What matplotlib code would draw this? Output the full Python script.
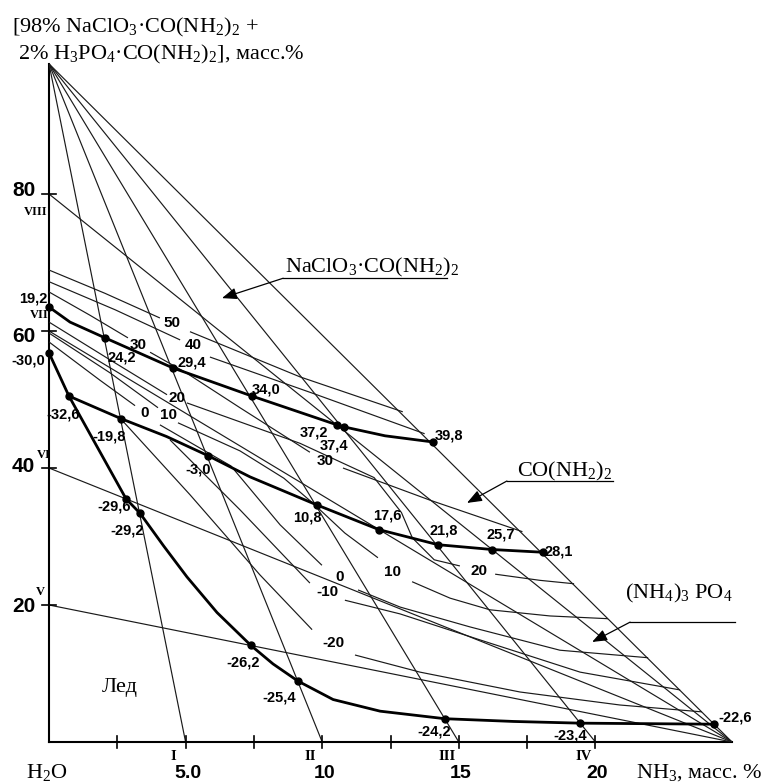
import matplotlib
matplotlib.use("Agg")
import matplotlib.pyplot as plt

# triangle corners (NH3 mass %, salt mass %)
apex_salt = 99.0
nh3_corner = 25.0

# section lines: I-IV start in the salt corner, V-VIII start in the NH3 corner
ray_nh3 = [5.0, 10.0, 15.0, 20.0]
ray_names = ["I", "II", "III", "IV"]
sec_salt = [20.0, 40.0, 60.0, 80.0]
sec_names = ["V", "VI", "VII", "VIII"]
xtick_vals = [2.5, 5.0, 7.5, 10.0, 12.5, 15.0, 17.5, 20.0]
xtick_text = {5.0: "5.0", 10.0: "10", 15.0: "15", 20.0: "20"}
ytick_vals = [20, 40, 60, 80]

# NaClO3*CO(NH2)2 / CO(NH2)2 boundary
upper_x = [0.0, 2.05, 4.54, 7.43, 10.54, 10.80, 14.05]
upper_y = [63.5, 59.0, 54.6, 50.5, 46.3, 46.0, 43.8]
upper_t = ["19,2", "24,2", "29,4", "34,0", "37,2", "37,4", "39,8"]
upper_path_x = [0.0, 0.77, 2.05, 4.54, 7.43, 10.54, 10.80, 12.3, 14.05]
upper_path_y = [63.5, 61.3, 59.0, 54.6, 50.5, 46.3, 46.0, 44.7, 43.8]

# CO(NH2)2 / (NH4)3PO4 boundary
lower_x = [0.73, 2.64, 5.82, 9.81, 12.08, 14.24, 16.22, 18.08]
lower_y = [50.5, 47.2, 41.8, 34.6, 31.0, 28.8, 28.1, 27.7]
lower_t = ["-32,6", "-19,8", "-3,0", "10,8", "17,6", "21,8", "25,7", "28,1"]
lower_path_x = [0.73, 2.64, 4.3, 5.82, 7.36, 9.81, 12.08, 14.24, 16.22, 18.08]
lower_path_y = [50.5, 47.2, 44.6, 41.8, 38.7, 34.6, 31.0, 28.8, 28.1, 27.7]

# ice curve
ice_x = [0.0, 2.82, 3.33, 7.39, 9.11, 14.49, 19.45, 24.35]
ice_y = [56.8, 35.5, 33.4, 14.1, 8.9, 3.4, 2.75, 2.6]
ice_t = ["-30,0", "-29,6", "-29,2", "-26,2", "-25,4", "-24,2", "-23,4", "-22,6"]
ice_path_x = [0.0, 0.73, 2.82, 3.33, 4.2, 5.05, 6.15, 7.39, 8.2, 9.11, 10.4, 12.12, 14.49, 17.0, 19.45, 24.35]
ice_path_y = [56.8, 50.5, 35.5, 33.4, 28.6, 24.1, 18.9, 14.1, 11.4, 8.9, 6.2, 4.5, 3.4, 3.0, 2.75, 2.6]

# isotherms (pieces between the labels)
iso50_a = [(0, 68.9), (2.05, 65.5), (4.06, 61.9)]
iso50_b = [(5.16, 59.9), (9.19, 53.3), (12.95, 48.2)]
iso40_a = [(0, 67.2), (2.42, 63.1), (4.80, 58.7)]
iso40_b = [(5.89, 56.2), (9.66, 50.9), (13.75, 45.0)]
iso30_a = [(0, 65.7), (1.50, 62.3), (2.89, 59.0)]
iso30_b = [(3.70, 56.9), (4.98, 54.0), (6.99, 48.8), (9.55, 42.3)]
iso30_c = [(10.76, 40.0), (13.95, 35.3), (17.33, 30.7)]
iso20_a = [(0, 61.3), (2.23, 55.8), (4.32, 50.7)]
iso20_b = [(5.05, 49.5), (9.19, 43.6), (11.9, 38.6), (12.9, 33.5), (13.3, 29.8), (14.1, 26.6), (15.04, 25.7)]
iso20_c = [(16.33, 24.5), (17.97, 23.6), (19.22, 23.1)]
iso10_a = [(0, 59.7), (2.23, 53.9), (3.99, 48.8)]
iso10_b = [(4.72, 46.6), (6.99, 42.5), (8.6, 38.5), (9.65, 34.9), (10.83, 30.5), (12.04, 26.9)]
iso10_c = [(13.29, 23.4), (14.68, 21.0), (16.14, 19.3), (18.34, 18.4), (20.46, 18.0)]
iso0_a = [(0, 58.4), (1.87, 52.8), (3.15, 49.1)]
iso0_b = [(4.06, 46.3), (5.53, 42.9), (6.66, 40.3), (8.46, 31.7), (9.99, 25.8)]
iso0_c = [(11.31, 22.2), (12.85, 19.7), (15.41, 16.8), (18.70, 13.4), (21.93, 12.3)]
isom10_a = [(4.43, 44.1), (6.99, 33.9), (9.55, 23.2)]
isom10_b = [(10.83, 20.7), (12.85, 18.7), (15.78, 14.9), (19.44, 10.2), (23.1, 7.6)]
isom20_a = [(2.53, 47.6), (5.16, 36.1), (7.72, 24.4), (9.63, 16.4)]
isom20_b = [(11.2, 12.7), (13.58, 10.2), (17.24, 7.3), (20.9, 5.4), (23.9, 4.4)]

iso_lines = [iso50_a, iso50_b, iso40_a, iso40_b, iso30_a, iso30_b, iso30_c,
             iso20_a, iso20_b, iso20_c, iso10_a, iso10_b, iso10_c,
             iso0_a, iso0_b, iso0_c, isom10_a, isom10_b, isom20_a, isom20_b]

iso_text = ["50", "40", "30", "20", "10", "0", "30", "20", "10", "0", "-10", "-20"]
iso_pos = [(4.5, 61.2), (5.27, 58.0), (3.26, 58.0), (4.69, 50.2), (4.36, 47.7), (3.5, 48.0),
           (10.1, 41.0), (15.74, 25.0), (12.59, 24.8), (10.65, 24.1), (10.18, 21.9), (10.40, 14.5)]

narrow = dict(family=["Liberation Sans", "DejaVu Sans"], fontweight="bold")
serif = ["Liberation Serif", "DejaVu Serif"]
plt.rcParams["mathtext.fontset"] = "custom"
plt.rcParams["mathtext.rm"] = "Liberation Serif"
plt.rcParams["mathtext.it"] = "Liberation Serif"

fig = plt.figure(figsize=(7.67, 7.83), dpi=100)
ax = fig.add_axes([49 / 767, 41 / 783, 683 / 767, 685 / 783])
ax.set_xlim(0, 25)
ax.set_ylim(0, 100)
ax.axis("off")

thin = dict(color="#1a1a1a", lw=0.85, solid_capstyle="butt")

# frame of the diagram
ax.plot([0, 0], [0, apex_salt], color="k", lw=1.5, clip_on=False)
ax.plot([0, nh3_corner], [0, 0], color="k", lw=1.5, clip_on=False)
ax.plot([0, nh3_corner], [apex_salt, 0], **thin)
for r in ray_nh3:
    ax.plot([0, r], [apex_salt, 0], **thin)
for s in sec_salt:
    ax.plot([0, nh3_corner], [s, 0], **thin)

for t in xtick_vals:
    ax.plot([t, t], [-0.9, 0.9], color="k", lw=1.2, clip_on=False)
    if t in xtick_text:
        ax.annotate(xtick_text[t], (t, 0), xytext=(2, -32), textcoords="offset pixels",
                    ha="center", va="center", fontsize=14, **narrow)
for r, name in zip(ray_nh3, ray_names):
    ax.annotate(name, (r, 0), xytext=(-12, -14), textcoords="offset pixels",
                ha="center", va="center", fontsize=10.5, fontweight="bold", family=serif)

ytick_off = [(-25, -1), (-26, 1), (-25, -6), (-25, 4)]
for t, off in zip(ytick_vals, ytick_off):
    ax.plot([-0.25, 0.25], [t, t], color="k", lw=1.2, clip_on=False)
    ax.annotate(str(t), (0, t), xytext=off, textcoords="offset pixels",
                ha="center", va="center", fontsize=15, **narrow)
sec_off = [(-9, 13), (-5, 13), (-10, 16), (-13, -18)]
for s, name, off in zip(sec_salt, sec_names, sec_off):
    ax.annotate(name, (0, s), xytext=off, textcoords="offset pixels",
                ha="center", va="center", fontsize=9, fontweight="bold", family=serif)

# isotherms
for seg in iso_lines:
    ax.plot([p[0] for p in seg], [p[1] for p in seg], **thin)
for txt, (x, y) in zip(iso_text, iso_pos):
    ax.text(x, y, txt, ha="center", va="center", fontsize=11, **narrow)

# boundary curves
ax.plot(upper_path_x, upper_path_y, color="k", lw=2.0)
ax.plot(lower_path_x, lower_path_y, color="k", lw=2.0)
ax.plot(ice_path_x, ice_path_y, color="k", lw=2.0)
for xs, ys in [(upper_x, upper_y), (lower_x, lower_y), (ice_x, ice_y)]:
    ax.plot(xs, ys, "o", color="k", ms=5, clip_on=False)

upper_off = [(-16, 9), (17, -20), (19, 5), (14, 7), (-23, -8), (-10, -19), (16, 6)]
lower_off = [(-6, -18), (-12, -18), (-10, -14), (-10, -13), (8, 14), (6, 14), (9, 15), (16, 1)]
ice_off = [(-21, -8), (-12, -8), (-13, -17), (-8, -17), (-19, -16), (-11, -13), (-10, -12), (21, 7)]
for xs, ys, ts, offs in [(upper_x, upper_y, upper_t, upper_off),
                         (lower_x, lower_y, lower_t, lower_off),
                         (ice_x, ice_y, ice_t, ice_off)]:
    for x, y, t, off in zip(xs, ys, ts, offs):
        ax.annotate(t, (x, y), xytext=off, textcoords="offset pixels",
                    ha="center", va="center", fontsize=10.5, **narrow)

# field names with leaders
arrow = dict(arrowstyle="-|>,head_length=0.9,head_width=0.35", color="k", lw=0.9,
             shrinkA=0, shrinkB=0)
ax.text(8.64, 68.5, r"NaClO$_3$·CO(NH$_2$)$_2$", fontsize=16, family=serif, va="baseline")
ax.plot([8.57, 14.57], [67.7, 67.7], color="k", lw=0.9)
ax.annotate("", xy=(6.33, 64.8), xytext=(8.57, 67.7), arrowprops=arrow)

ax.text(17.13, 38.7, r"CO(NH$_2$)$_2$", fontsize=16, family=serif, va="baseline")
ax.plot([16.76, 20.64], [38.1, 38.1], color="k", lw=0.9)
ax.annotate("", xy=(15.30, 34.9), xytext=(16.76, 38.1), arrowprops=arrow)

ax.text(21.08, 21.0, r"(NH$_4$)$_3$ PO$_4$", fontsize=16, family=serif, va="baseline")
ax.plot([25.11, 21.27], [17.5, 17.5], color="k", lw=0.9, clip_on=False)
ax.annotate("", xy=(19.88, 14.6), xytext=(21.27, 17.5), arrowprops=arrow)

ax.text(2.6, 7.9, "Лед", fontsize=16, family=serif, ha="center", va="center")

# corner captions
ax.text(-1.35, 103.6, r"[98% NaClO$_3$·CO(NH$_2$)$_2$ +", fontsize=16, family=serif, va="baseline")
ax.text(-1.13, 99.6, r"2% H$_3$PO$_4$·CO(NH$_2$)$_2$], масс.%", fontsize=16, family=serif, va="baseline")
ax.text(-0.07, -4.5, r"H$_2$O", fontsize=16, family=serif, ha="center", va="center")
ax.text(21.5, -4.4, r"NH$_3$, масс. %", fontsize=16, family=serif, va="center")

fig.savefig("out.png", dpi=100)
